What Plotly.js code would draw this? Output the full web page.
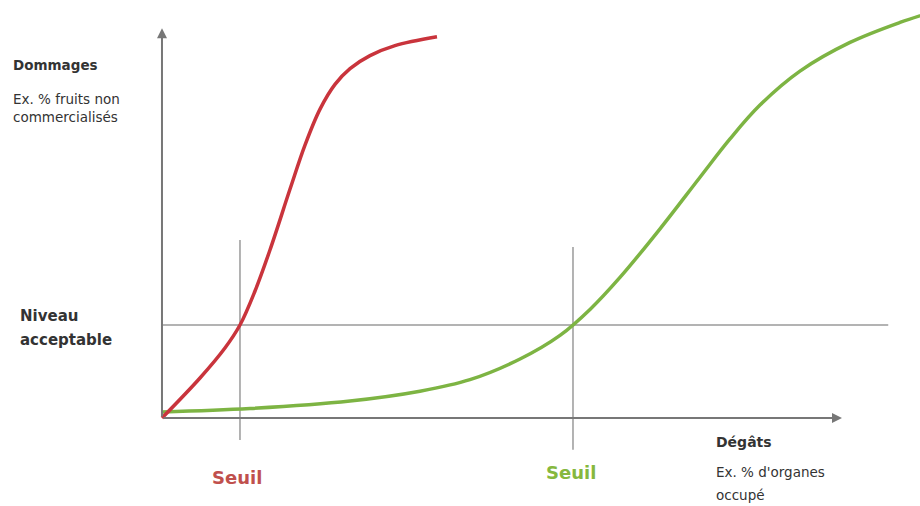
<!DOCTYPE html>
<html>
<head>
<meta charset="utf-8">
<script src="https://cdn.plot.ly/plotly-3.0.1.min.js"></script>
<style>html,body{margin:0;padding:0;background:#fff;}#chart{width:920px;height:506px;}</style>
</head>
<body>
<div id="chart"></div>
<script>
// Data (damage % on x, losses % on y)
const redX   = [0, 5.59, 9.26, 11.47, 13.68, 15.88, 18.82, 21.03, 23.24, 25.44, 27.65, 30.59, 34.26, 40.44];
const redY   = [0, 10.18, 17.81, 23.66, 32.32, 42.75, 58.19, 69.44, 78.60, 84.90, 88.91, 92.21, 94.76, 97.00];
const greenX = [0, 12.94, 27.65, 37.94, 45.29, 52.65, 58.53, 62.94, 67.35, 73.24, 79.12, 83.53, 87.94, 93.82, 101.18, 108.53, 114.41];
const greenY = [1.53, 2.42, 4.33, 6.82, 9.75, 15.01, 21.02, 27.63, 35.78, 48.14, 61.27, 71.02, 79.62, 88.27, 95.57, 100.66, 103.92];
const acceptableLevel = 23.66;
const levelLineX = [0, 106.8];
const redThreshold = 11.47;
const redThresholdY = [-5.6, 45.3];
const greenThreshold = 60.44;
const greenThresholdY = [-8.1, 43.5];
const xAxisEnd = 100;
const yAxisEnd = 99.2;

const greyLine = {color: '#9a9a9a', width: 1.5};
const traces = [
  {x: levelLineX, y: [acceptableLevel, acceptableLevel], mode: 'lines', line: greyLine, hoverinfo: 'skip'},
  {x: [redThreshold, redThreshold], y: redThresholdY, mode: 'lines', line: greyLine, hoverinfo: 'skip'},
  {x: [greenThreshold, greenThreshold], y: greenThresholdY, mode: 'lines', line: greyLine, hoverinfo: 'skip'},
  {x: greenX, y: greenY, mode: 'lines', line: {color: '#7db443', width: 3.5, shape: 'spline', smoothing: 1}},
  {x: redX, y: redY, mode: 'lines', line: {color: '#c9343c', width: 3.5, shape: 'spline', smoothing: 1}}
];

const F = 'DejaVu Sans, Liberation Sans, sans-serif';
function txt(text, px, py, size, color, bold) {
  return {text: bold ? '<b>' + text + '</b>' : text, xref: 'paper', yref: 'paper',
    x: px / 920, y: 1 - py / 506, xanchor: 'left', yanchor: 'middle', showarrow: false,
    font: {family: F, size: size, color: color}};
}
const annotations = [
  {x: xAxisEnd, y: 0, ax: 0, ay: 0, axref: 'x', ayref: 'y', xref: 'x', yref: 'y', text: '',
   showarrow: true, arrowhead: 2, arrowsize: 1, arrowwidth: 2, arrowcolor: '#777'},
  {x: 0, y: yAxisEnd, ax: 0, ay: 0, axref: 'x', ayref: 'y', xref: 'x', yref: 'y', text: '',
   showarrow: true, arrowhead: 2, arrowsize: 1, arrowwidth: 2, arrowcolor: '#777'},
  txt('Dommages', 11, 65, 13.5, '#333', true),
  txt('Ex. % fruits non', 11, 99, 13.5, '#333', false),
  txt('commercialisés', 11, 117, 13.5, '#333', false),
  txt('Niveau', 18, 316, 15, '#333', true),
  txt('acceptable', 18, 340, 15, '#333', true),
  txt('Seuil', 210, 477, 18, '#c0504d', true),
  txt('Seuil', 544, 472, 18, '#86b83e', true),
  txt('Dégâts', 714, 442, 14, '#333', true),
  txt("Ex. % d'organes", 714, 472, 13.5, '#333', false),
  txt('occupé', 714, 495, 13.5, '#333', false)
];

const layout = {
  width: 920, height: 506,
  margin: {l: 0, r: 0, t: 0, b: 0},
  paper_bgcolor: '#fff', plot_bgcolor: '#fff',
  showlegend: false,
  xaxis: {range: [-23.82, 111.47], visible: false, fixedrange: true},
  yaxis: {range: [-22.39, 106.36], visible: false, fixedrange: true},
  annotations: annotations
};
Plotly.newPlot('chart', traces, layout, {displayModeBar: false, staticPlot: true});
</script>
</body>
</html>
